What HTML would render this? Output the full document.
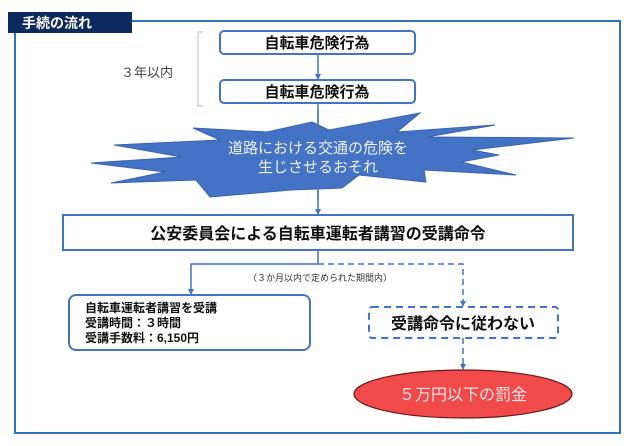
<!DOCTYPE html>
<html><head><meta charset="utf-8"><style>
body{margin:0;background:#fff;width:631px;height:446px;overflow:hidden}
svg{display:block}
text{font-family:"Liberation Sans","Noto Sans CJK JP",sans-serif}
</style></head><body>
<svg width="631" height="446" viewBox="0 0 631 446">
<defs>
<marker id="a" markerWidth="6" markerHeight="6" refX="5" refY="3" orient="auto" markerUnits="userSpaceOnUse"><path d="M0,0 L6,3 L0,6 z" fill="#4472c4"/></marker>
</defs>
<rect x="15" y="21" width="605" height="412" fill="none" stroke="#2e75b6" stroke-width="2"/>
<rect x="8" y="12" width="124" height="21" fill="#0c2a5e"/>
<text x="22" y="28" font-size="14" font-weight="bold" fill="#fff">手続の流れ</text>
<path d="M203,32 H198 V106 H203" fill="none" stroke="#bbb" stroke-width="1"/>
<text x="121" y="77" font-size="13" fill="#444">３年以内</text>
<rect x="220" y="31" width="195" height="23" rx="4" fill="#fff" stroke="#4472c4" stroke-width="2"/>
<text x="317" y="48" font-size="15" font-weight="bold" text-anchor="middle" fill="#111">自転車危険行為</text>
<line x1="318" y1="54" x2="318" y2="79" stroke="#4472c4" stroke-width="1.5" marker-end="url(#a)"/>
<rect x="220" y="80" width="195" height="23" rx="4" fill="#fff" stroke="#4472c4" stroke-width="2"/>
<text x="317" y="97" font-size="15" font-weight="bold" text-anchor="middle" fill="#111">自転車危険行為</text>
<line x1="318" y1="103" x2="318" y2="214" stroke="#4472c4" stroke-width="1.5" marker-end="url(#a)"/>
<polygon points="91,163 182,157 114,145 220,140 193,128 267,132 312,122 329,130 420,113 397,132 495,125 427,137 574,138 472,150 499,155 461,162 516,175 424,170 426,182 359,175 342,188 291,190 210,197 196,180 111,183 165,172" fill="#4472c4" stroke="#3a63ad" stroke-width="1"/>
<line x1="318" y1="110" x2="318" y2="200" stroke="#4472c4" stroke-width="1.5"/>
<text x="318" y="153" font-size="15" text-anchor="middle" fill="#eef3fb">道路における交通の危険を</text>
<text x="318" y="172" font-size="15" text-anchor="middle" fill="#eef3fb">生じさせるおそれ</text>
<rect x="63" y="215" width="510" height="35" fill="#fff" stroke="#4472c4" stroke-width="2"/>
<text x="318" y="239" font-size="16" font-weight="bold" text-anchor="middle" fill="#111">公安委員会による自転車運転者講習の受講命令</text>
<path d="M318,250 V264 H191 V294" fill="none" stroke="#4472c4" stroke-width="1.5" marker-end="url(#a)"/>
<path d="M318,264 H463 V306" fill="none" stroke="#4472c4" stroke-width="1.5" stroke-dasharray="6,4" marker-end="url(#a)"/>
<text x="320" y="281" font-size="9" text-anchor="middle" fill="#333">（３か月以内で定められた期間内）</text>
<rect x="69" y="295" width="241" height="55" rx="7" fill="#fff" stroke="#4472c4" stroke-width="2"/>
<text x="85" y="312" font-size="12" font-weight="bold" fill="#111">自転車運転者講習を受講</text>
<text x="85" y="327" font-size="12" font-weight="bold" fill="#111">受講時間：３時間</text>
<text x="85" y="342" font-size="12" font-weight="bold" fill="#111">受講手数料：6,150円</text>
<rect x="369" y="307" width="189" height="31" rx="3" fill="#fff" stroke="#4472c4" stroke-width="2" stroke-dasharray="7,5"/>
<text x="463" y="329" font-size="16" font-weight="bold" text-anchor="middle" fill="#111">受講命令に従わない</text>
<line x1="463" y1="338" x2="463" y2="369" stroke="#4472c4" stroke-width="1.5" stroke-dasharray="6,4" marker-end="url(#a)"/>
<ellipse cx="463" cy="394" rx="109" ry="24" fill="#f04a4a" stroke="#6b1a1a" stroke-width="1.2"/>
<text x="463" y="400" font-size="16" text-anchor="middle" fill="#fde3e3">５万円以下の罰金</text>
</svg>
</body></html>
